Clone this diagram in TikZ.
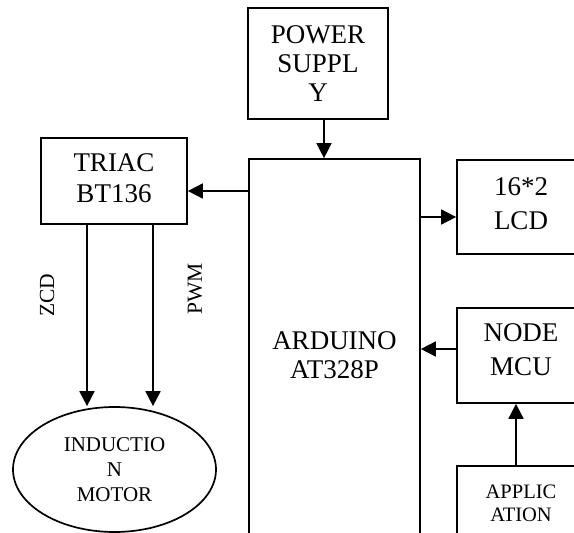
\documentclass[tikz,border=0pt]{standalone}
\usepackage{fontspec}
\setmainfont{Liberation Serif}
\usetikzlibrary{arrows.meta,shapes.geometric}
\tikzset{
  blk/.style={draw,line width=1.7pt,rectangle,inner sep=0pt,align=center},
  arr/.style={line width=1.7pt,-{Triangle[length=15pt,width=15pt]}},
  sig/.style={rotate=90,font=\fontsize{21.5}{24}\selectfont,inner sep=0pt}
}
\begin{document}
\begin{tikzpicture}[x=1pt,y=-1pt]
\useasboundingbox (0,0) rectangle (574,533);
\clip (0,0) rectangle (574,533);
\fill[white] (0,0) rectangle (574,533);
% blocks
\node[blk,minimum width=140pt,minimum height=111pt,font=\fontsize{27}{29}\selectfont] (ps) at (318,63.5) {POWER\\SUPPL\\Y};
\node[blk,minimum width=171pt,minimum height=392pt,font=\fontsize{27}{28.5}\selectfont] (ard) at (334.5,355) {ARDUINO\\AT328P};
\node[blk,minimum width=146pt,minimum height=86pt,text depth=6pt,font=\fontsize{27}{31}\selectfont] (triac) at (114,181) {TRIAC\\BT136};
\node[blk,minimum width=128pt,minimum height=94pt,text depth=7pt,font=\fontsize{27}{34}\selectfont] (lcd) at (521,207) {16*2\\LCD};
\node[blk,minimum width=128pt,minimum height=95pt,text depth=11pt,font=\fontsize{27}{34}\selectfont] (mcu) at (521,355.5) {NODE\\MCU};
\node[blk,minimum width=128pt,minimum height=74pt,font=\fontsize{20.5}{23}\selectfont] (app) at (521,503) {APPLIC\\ATION};
\node[draw,line width=1.7pt,ellipse,inner sep=0pt,minimum width=203pt,minimum height=125pt,align=center,font=\fontsize{21}{25}\selectfont] (motor) at (114.5,469.5) {INDUCTIO\\N\\MOTOR};
% labels
\node[sig] (zcd) at (47,295) {ZCD};
\node[sig] (pwm) at (195,289) {PWM};
% connectors
\coordinate (p1) at ([xshift=6pt]ps.south);
\draw[arr] (p1) -- (p1 |- ard.north);
\coordinate (t1) at ([yshift=-10pt]triac.east);
\draw[arr] (t1 -| ard.west) -- (t1);
\coordinate (l1) at ([yshift=-10pt]lcd.west);
\draw[arr] (l1 -| ard.east) -- (l1);
\coordinate (m1) at ([yshift=6.5pt]mcu.west);
\draw[arr] (m1) -- (m1 -| ard.east);
\coordinate (a1) at ([xshift=-5pt]app.north);
\draw[arr] (a1) -- (a1 |- mcu.south);
\coordinate (z1) at ([xshift=-27pt]triac.south);
\draw[arr] (z1) -- (z1 |- motor.north);
\coordinate (w1) at ([xshift=39pt]triac.south);
\draw[arr] (w1) -- (w1 |- motor.north);
\end{tikzpicture}
\end{document}
